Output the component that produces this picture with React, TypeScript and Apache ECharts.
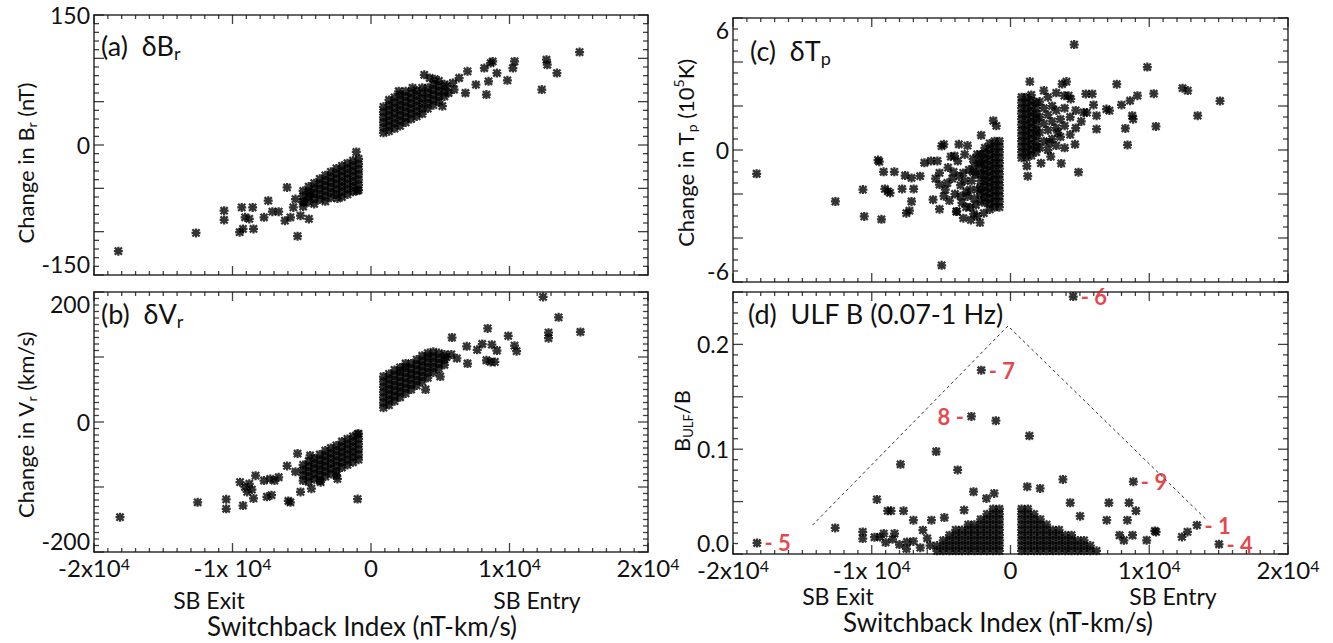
import React, { useEffect, useRef } from "react";
import * as echarts from "echarts";

const FONT = 'Lato, "Open Sans", "DejaVu Sans", sans-serif';

// ---------- tick labels ----------
const X_TICK_VALUES = [-20000, -10000, 0, 10000, 20000];
const X_TICK_BASES = ["-2x10", "-1x 10", "0", "1x10", "2x10"];
const X_TICK_EXPS = ["4", "4", "", "4", "4"];
const BR_TICK_LABELS = [-150, 0, 150];
const VR_TICK_LABELS = [-200, 0, 200];
const TP_TICK_LABELS = [-6, 0, 6];
const ULF_TICK_LABELS = [0, 0.1, 0.2];

// ---------- tick mark positions (major + minor) ----------
const X_TICKS = [
  -20000, -19000, -18000, -17000, -16000, -15000, -14000, -13000, -12000, -11000,
  -10000, -9000, -8000, -7000, -6000, -5000, -4000, -3000, -2000, -1000,
  0, 1000, 2000, 3000, 4000, 5000, 6000, 7000, 8000, 9000,
  10000, 11000, 12000, 13000, 14000, 15000, 16000, 17000, 18000, 19000, 20000,
];
const BR_TICKS = [
  -150, -140, -130, -120, -110, -100, -90, -80, -70, -60, -50, -40, -30, -20, -10,
  0, 10, 20, 30, 40, 50, 60, 70, 80, 90, 100, 110, 120, 130, 140, 150,
];
const VR_TICKS = [
  -200, -190, -180, -170, -160, -150, -140, -130, -120, -110, -100, -90, -80, -70, -60, -50, -40, -30, -20, -10,
  0, 10, 20, 30, 40, 50, 60, 70, 80, 90, 100, 110, 120, 130, 140, 150, 160, 170, 180, 190, 200,
];
const TP_TICKS = [
  -6, -5.5, -5, -4.5, -4, -3.5, -3, -2.5, -2, -1.5, -1, -0.5,
  0, 0.5, 1, 1.5, 2, 2.5, 3, 3.5, 4, 4.5, 5, 5.5, 6,
];
const ULF_TICKS = [
  0, 0.01, 0.02, 0.03, 0.04, 0.05, 0.06, 0.07, 0.08, 0.09, 0.1, 0.11, 0.12,
  0.13, 0.14, 0.15, 0.16, 0.17, 0.18, 0.19, 0.2, 0.21, 0.22, 0.23, 0.24, 0.25,
];

// ---------- (a) delta B_r (nT) ----------
const brNegCore = [
  [-900, -16], [-900, -22], [-900, -28], [-900, -34], [-900, -40], [-900, -46], [-900, -52],
  [-1300, -18], [-1300, -24], [-1300, -30], [-1300, -36], [-1300, -42], [-1300, -48], [-1300, -54],
  [-1700, -21], [-1700, -27], [-1700, -33], [-1700, -39], [-1700, -45], [-1700, -51], [-1700, -57],
  [-2100, -24], [-2100, -30], [-2100, -36], [-2100, -42], [-2100, -48], [-2100, -54], [-2100, -60],
  [-2500, -27], [-2500, -33], [-2500, -39], [-2500, -45], [-2500, -51], [-2500, -57],
  [-2900, -31], [-2900, -37], [-2900, -43], [-2900, -49], [-2900, -55], [-2900, -61],
  [-3300, -35], [-3300, -41], [-3300, -47], [-3300, -53], [-3300, -59], [-3300, -65],
  [-3700, -39], [-3700, -45], [-3700, -51], [-3700, -57], [-3700, -63],
  [-4100, -44], [-4100, -50], [-4100, -56], [-4100, -62], [-4100, -68],
  [-4500, -48], [-4500, -54], [-4500, -60], [-4500, -66],
  [-4900, -53], [-4900, -59], [-4900, -65], [-4900, -71],
];
const brNegScatter = [
  [-18242, -122.5], [-12636, -101.4], [-10606, -75.8], [-10606, -86.5], [-9485, -100.6],
  [-9333, -72], [-8545, -72], [-9091, -83.4], [-8788, -85.3], [-9242, -96.8], [-8485, -96.8],
  [-7727, -83.4], [-7424, -64.3], [-7121, -76.9], [-6667, -76.9], [-6212, -87.3], [-5818, -83.4],
  [-6061, -49], [-5303, -105.2], [-5091, -81.5], [-4485, -85.3], [-5606, -72], [-5455, -62.4],
  [-4848, -66.2], [-4394, -56.6], [-1061, -8], [-1000, -52.8], [-2424, -61.6],
];
const brPosCore = [
  [900, 14], [900, 20], [900, 26], [900, 32], [900, 38], [900, 44],
  [1300, 16], [1300, 22], [1300, 28], [1300, 34], [1300, 40], [1300, 46], [1300, 52],
  [1700, 19], [1700, 25], [1700, 31], [1700, 37], [1700, 43], [1700, 49], [1700, 55],
  [2100, 22], [2100, 28], [2100, 34], [2100, 40], [2100, 46], [2100, 52], [2100, 58],
  [2500, 26], [2500, 32], [2500, 38], [2500, 44], [2500, 50], [2500, 56], [2500, 62],
  [2900, 30], [2900, 36], [2900, 42], [2900, 48], [2900, 54], [2900, 60],
  [3300, 33], [3300, 39], [3300, 45], [3300, 51], [3300, 57], [3300, 63],
  [3700, 36], [3700, 42], [3700, 48], [3700, 54], [3700, 60], [3700, 66],
  [4100, 42], [4100, 48], [4100, 54], [4100, 60], [4100, 66],
  [4500, 46], [4500, 52], [4500, 58], [4500, 64], [4500, 70],
  [4900, 50], [4900, 56], [4900, 62], [4900, 68], [4900, 74],
  [5300, 56], [5300, 62], [5300, 70],
];
const brPosScatter = [
  [3848, 81], [4242, 77.3], [5152, 44.8], [6818, 60], [6364, 77.3], [6970, 85], [7576, 69.6],
  [8333, 58.2], [8485, 73.5], [8182, 88.8], [8636, 94.5], [8788, 96.4], [9091, 83], [9848, 74.6],
  [10242, 88.8], [10364, 96.4], [12333, 63.9], [12667, 98.4], [12727, 92.6], [13424, 83],
  [15061, 107.2], [5455, 67.7], [5909, 71.6], [2000, 62], [3000, 66], [4600, 76], [5600, 60], [6000, 64],
];

// ---------- (b) delta V_r (km/s) ----------
const vrNegCore = [
  [-900, -18], [-900, -26], [-900, -34], [-900, -42], [-900, -50], [-900, -58],
  [-1300, -22], [-1300, -30], [-1300, -38], [-1300, -46], [-1300, -54], [-1300, -62],
  [-1700, -26], [-1700, -34], [-1700, -42], [-1700, -50], [-1700, -58], [-1700, -66],
  [-2100, -30], [-2100, -38], [-2100, -46], [-2100, -54], [-2100, -62], [-2100, -70],
  [-2500, -36], [-2500, -44], [-2500, -52], [-2500, -60], [-2500, -68], [-2500, -76], [-2500, -82],
  [-2900, -40], [-2900, -48], [-2900, -56], [-2900, -64], [-2900, -72], [-2900, -80],
  [-3300, -44], [-3300, -52], [-3300, -60], [-3300, -68], [-3300, -76], [-3300, -84],
  [-3700, -50], [-3700, -58], [-3700, -66], [-3700, -74], [-3700, -82], [-3700, -90],
  [-4100, -56], [-4100, -64], [-4100, -72], [-4100, -80], [-4100, -88],
  [-4500, -60], [-4500, -68], [-4500, -76], [-4500, -84], [-4500, -92],
  [-4900, -66], [-4900, -74], [-4900, -82], [-4900, -90],
];
const vrNegScatter = [
  [-18121, -146.5], [-12515, -123.5], [-10455, -119], [-10455, -133.5], [-9242, -128.5],
  [-8485, -117.5], [-9455, -92.5], [-8788, -95], [-8333, -82.5], [-8939, -107.5], [-7727, -90],
  [-7273, -87.5], [-6970, -90], [-7515, -115], [-7182, -112.5], [-5970, -121.5], [-5818, -123.5],
  [-6667, -85], [-5303, -48.5], [-4394, -51.5], [-5091, -107.5], [-4303, -102.5], [-970, -118.5],
  [-970, -18.5], [-6061, -67.5], [-5455, -76.5], [-3636, -92.5], [-2424, -87.5], [-9100, -100], [-8600, -104],
];
const vrPosCore = [
  [900, 22], [900, 30], [900, 38], [900, 46], [900, 54], [900, 62], [900, 70],
  [1300, 26], [1300, 34], [1300, 42], [1300, 50], [1300, 58], [1300, 66], [1300, 74],
  [1700, 32], [1700, 40], [1700, 48], [1700, 56], [1700, 64], [1700, 72], [1700, 80],
  [2100, 38], [2100, 46], [2100, 54], [2100, 62], [2100, 70], [2100, 78], [2100, 84],
  [2500, 44], [2500, 52], [2500, 60], [2500, 68], [2500, 76], [2500, 84], [2500, 90],
  [2900, 50], [2900, 58], [2900, 66], [2900, 74], [2900, 82], [2900, 90],
  [3300, 56], [3300, 64], [3300, 72], [3300, 80], [3300, 88], [3300, 96],
  [3700, 62], [3700, 70], [3700, 78], [3700, 86], [3700, 94], [3700, 102],
  [4100, 68], [4100, 76], [4100, 84], [4100, 92], [4100, 100], [4100, 106],
  [4500, 76], [4500, 84], [4500, 92], [4500, 100], [4500, 108],
  [4900, 82], [4900, 90], [4900, 98], [4900, 106],
  [5300, 88], [5300, 96], [5300, 104],
];
const vrPosScatter = [
  [5848, 130], [6909, 116.5], [7667, 111], [8030, 120], [8424, 144], [8727, 119], [9091, 110],
  [8333, 95], [8636, 92.5], [8939, 92.5], [9909, 132.5], [10364, 117.5], [10515, 109],
  [12424, 192.5], [12818, 137.5], [12818, 129], [13545, 161], [15121, 138.5], [5455, 100],
  [6970, 90], [5000, 70], [3939, 50], [6200, 98], [5800, 104],
];

// ---------- (c) delta T_p (10^5 K) ----------
const tpNegCore = [
  [-800, 0.4], [-800, 0.15], [-800, -0.1], [-800, -0.35], [-800, -0.6], [-800, -0.85], [-800, -1.1],
  [-800, -1.35], [-800, -1.6], [-800, -1.85], [-800, -2.1], [-800, -2.35], [-800, -2.6],
  [-1150, 0.4], [-1150, 0.15], [-1150, -0.1], [-1150, -0.35], [-1150, -0.6], [-1150, -0.85], [-1150, -1.1],
  [-1150, -1.35], [-1150, -1.6], [-1150, -1.85], [-1150, -2.1], [-1150, -2.35], [-1150, -2.6],
  [-1500, 0.3], [-1500, 0.05], [-1500, -0.2], [-1500, -0.45], [-1500, -0.7], [-1500, -0.95], [-1500, -1.2],
  [-1500, -1.45], [-1500, -1.7], [-1500, -1.95], [-1500, -2.2], [-1500, -2.45], [-1500, -2.7],
  [-1850, 0.1], [-1850, -0.15], [-1850, -0.4], [-1850, -0.65], [-1850, -0.9], [-1850, -1.15], [-1850, -1.4],
  [-1850, -1.65], [-1850, -1.9], [-1850, -2.15], [-1850, -2.4],
  [-2150, -0.2], [-2150, -0.5], [-2150, -0.8], [-2150, -1.1], [-2150, -1.4], [-2150, -1.7], [-2150, -2.0], [-2150, -2.3],
];
const tpNegScatter = [
  [-18295, -1.08], [-12620, -2.34], [-10636, -1.8], [-10543, -3.02], [-9302, -3.15], [-9550, -0.46],
  [-9457, -0.53], [-9147, -0.99], [-8372, -0.99], [-9054, -1.77], [-8837, -1.88], [-8682, -1.95],
  [-7814, -1.77], [-7597, -1.16], [-7132, -1.27], [-6977, -1.77], [-7132, -2.34], [-7504, -2.87],
  [-7287, -2.76], [-6512, -1.19], [-6202, -0.58], [-5736, -0.5], [-5271, -0.5], [-4961, 0.18],
  [-4806, 0.26], [-5116, -1.04], [-5116, -1.57], [-5116, -2.69], [-4558, -1.5], [-3876, -2.79],
  [-3721, 0.26], [-4031, -0.27], [-2853, -3.18], [-1922, -2.87], [-4961, -5.24], [-2109, 0.67],
  [-1240, 1.33], [-1023, 1.1], [-5581, -2.26], [-3411, -1.04], [-3101, -2.11], [-2636, -0.73],
  [-4500, -0.8], [-4200, -1.3], [-4000, -2.0], [-3800, -0.5], [-3600, -1.6], [-3500, -2.4],
  [-3300, -0.2], [-3200, -1.9], [-3000, -0.9], [-2900, -2.6], [-2800, -1.4], [-2700, -0.4],
  [-2600, -2.2], [-2500, -1.1], [-2400, -3.0], [-2400, -1.8], [-2300, -0.6], [-4400, -2.3],
  [-3900, -2.8], [-4700, -1.8], [-3400, -3.1], [-3100, 0.2], [-2650, -2.9], [-2200, -3.3],
  [-4300, -0.3], [-4100, -1.0], [-3700, -1.2], [-3600, -2.1], [-3300, -1.4], [-3200, -2.6],
  [-2900, -1.8], [-2700, -1.0], [-2500, -2.5], [-2400, -0.2], [-4800, -2.1], [-5400, -1.3],
];
const tpPosCore = [
  [800, -0.35], [800, -0.1], [800, 0.15], [800, 0.4], [800, 0.65], [800, 0.9], [800, 1.15], [800, 1.4], [800, 1.65], [800, 1.9], [800, 2.15], [800, 2.4],
  [1150, -0.35], [1150, -0.1], [1150, 0.15], [1150, 0.4], [1150, 0.65], [1150, 0.9], [1150, 1.15], [1150, 1.4], [1150, 1.65], [1150, 1.9], [1150, 2.15], [1150, 2.4],
  [1500, -0.25], [1500, 0.0], [1500, 0.25], [1500, 0.5], [1500, 0.75], [1500, 1.0], [1500, 1.25], [1500, 1.5], [1500, 1.75], [1500, 2.0], [1500, 2.25], [1500, 2.5],
  [1850, -0.1], [1850, 0.15], [1850, 0.4], [1850, 0.65], [1850, 0.9], [1850, 1.15], [1850, 1.4], [1850, 1.65], [1850, 1.9], [1850, 2.15],
];
const tpPosScatter = [
  [1395, 3.11], [1240, -1.19], [1178, -0.73], [4031, 3.11], [3721, 3.0], [4589, 4.79], [3659, -0.61],
  [4899, -1.01], [3876, 2.47], [4186, 2.47], [4651, 0.26], [4341, 2.32], [5426, 2.55], [5891, 2.55],
  [5984, 2.05], [6202, 0.95], [6915, 1.86], [7132, 1.79], [7659, 2.99], [8000, 2.05], [8279, 0.98],
  [8434, 0.23], [8620, 2.24], [8775, 1.56], [8837, 1.4], [9147, 2.47], [9860, 3.77], [10326, 2.56],
  [10481, 1.07], [12403, 2.81], [12775, 2.7], [13488, 1.56], [15101, 2.23], [6202, 1.56], [5271, 1.71],
  [3411, 0.79], [2791, 0.34],
  [2100, 0.1], [2100, 0.8], [2100, 1.5], [2100, 2.2], [2400, 0.4], [2400, 1.2], [2400, 1.9], [2400, 2.7],
  [2700, 0.0], [2700, 0.9], [2700, 1.6], [2700, 2.4], [3000, 0.5], [3000, 1.3], [3000, 2.0], [3300, 0.2],
  [3300, 1.0], [3300, 1.8], [3300, 2.6], [3600, 0.6], [3600, 1.4], [3900, 0.1], [3900, 1.1], [3900, 1.9],
  [4300, 0.7], [4300, 1.5], [4700, 1.0], [4700, 1.8], [5100, 1.3], [5500, 1.7], [2200, -0.6], [2900, -0.3],
];

// ---------- (d) ULF B / B ----------
const ulfNegCore = [
  [-800, 0.003], [-800, 0.008], [-800, 0.013], [-800, 0.018], [-800, 0.023], [-800, 0.028], [-800, 0.033], [-800, 0.038], [-800, 0.043],
  [-1250, 0.003], [-1250, 0.008], [-1250, 0.013], [-1250, 0.018], [-1250, 0.023], [-1250, 0.028], [-1250, 0.033], [-1250, 0.038], [-1250, 0.043],
  [-1700, 0.003], [-1700, 0.008], [-1700, 0.013], [-1700, 0.018], [-1700, 0.023], [-1700, 0.028], [-1700, 0.033], [-1700, 0.038],
  [-2150, 0.003], [-2150, 0.008], [-2150, 0.013], [-2150, 0.018], [-2150, 0.023], [-2150, 0.028], [-2150, 0.033],
  [-2600, 0.003], [-2600, 0.008], [-2600, 0.013], [-2600, 0.018], [-2600, 0.023], [-2600, 0.028],
  [-3050, 0.003], [-3050, 0.008], [-3050, 0.013], [-3050, 0.018], [-3050, 0.023], [-3050, 0.028],
  [-3500, 0.003], [-3500, 0.008], [-3500, 0.013], [-3500, 0.018], [-3500, 0.023],
  [-3950, 0.003], [-3950, 0.008], [-3950, 0.013], [-3950, 0.018], [-3950, 0.023],
  [-4400, 0.003], [-4400, 0.008], [-4400, 0.013], [-4400, 0.018],
  [-4850, 0.003], [-4850, 0.008], [-4850, 0.013],
  [-5300, 0.003], [-5300, 0.008],
];
const ulfPosCore = [
  [800, 0.003], [800, 0.008], [800, 0.013], [800, 0.018], [800, 0.023], [800, 0.028], [800, 0.033], [800, 0.038], [800, 0.043],
  [1250, 0.003], [1250, 0.008], [1250, 0.013], [1250, 0.018], [1250, 0.023], [1250, 0.028], [1250, 0.033], [1250, 0.038], [1250, 0.043],
  [1700, 0.003], [1700, 0.008], [1700, 0.013], [1700, 0.018], [1700, 0.023], [1700, 0.028], [1700, 0.033], [1700, 0.038],
  [2150, 0.003], [2150, 0.008], [2150, 0.013], [2150, 0.018], [2150, 0.023], [2150, 0.028], [2150, 0.033],
  [2600, 0.003], [2600, 0.008], [2600, 0.013], [2600, 0.018], [2600, 0.023], [2600, 0.028],
  [3050, 0.003], [3050, 0.008], [3050, 0.013], [3050, 0.018], [3050, 0.023],
  [3500, 0.003], [3500, 0.008], [3500, 0.013], [3500, 0.018], [3500, 0.023],
  [3950, 0.003], [3950, 0.008], [3950, 0.013], [3950, 0.018],
  [4400, 0.003], [4400, 0.008], [4400, 0.013], [4400, 0.018],
  [4850, 0.003], [4850, 0.008], [4850, 0.013],
  [5300, 0.003], [5300, 0.008], [5300, 0.013],
  [5750, 0.003], [5750, 0.008],
  [6200, 0.003],
];
const ulfScatter = [
  [-12632, 0.0249], [-10650, 0.0211], [-10650, 0.0147], [-9628, 0.0521], [-9411, 0.0163], [-8854, 0.0412],
  [-8606, 0.0412], [-9132, 0.0195], [-8358, 0.0195], [-7926, 0.0856], [-7709, 0.0412], [-7461, 0.0115],
  [-6997, 0.0323], [-6316, 0.0227], [-5696, 0.0323], [-5356, 0.0978], [-4768, 0.0348], [-3808, 0.0802],
  [-3344, 0.0419], [-2663, 0.0594], [-1734, 0.053], [-1176, 0.0578], [-1053, 0.1272], [1362, 0.1128],
  [1207, 0.0642], [2136, 0.0626], [3777, 0.0712], [4304, 0.0489], [5016, 0.0361], [7090, 0.0489],
  [6935, 0.0323], [8545, 0.0489], [8421, 0.0323], [9040, 0.0412], [8793, 0.0179], [9814, 0.0131],
  [10402, 0.022], [10495, 0.0211], [12353, 0.0163], [12756, 0.0211], [8173, 0.0131], [7863, 0.0179],
  [-6500, 0.006], [-7000, 0.012], [-7500, 0.005], [-8000, 0.009], [-6000, 0.015], [-8500, 0.014],
  [-9000, 0.011], [-9800, 0.016], [-5800, 0.008],
];
// numbered events
const eventIds = ["6", "7", "8", "9", "1", "4", "5"];
const eventX = [4520, -2105, -2817, 8854, 13437, 15027, -18270];
const eventY = [0.2457, 0.1754, 0.1313, 0.069, 0.0275, 0.0093, 0.0105];
const eventSide = ["right", "right", "left", "right", "right", "right", "right"];
// dashed envelope
const envelopeX = [-14272, -186, 14211];
const envelopeY = [0.0275, 0.2176, 0.0316];

// ---------- styling helpers ----------
const AXIS_COLOR = "#333";
const STAR =
  "path://M7.5 0L12.5 0L12.5 20L7.5 20Z M0 7.5L20 7.5L20 12.5L0 12.5Z M3.77 0.23L19.77 16.23L16.23 19.77L0.23 3.77Z M16.23 0.23L19.77 3.77L3.77 19.77L0.23 16.23Z";
const GRIDS = [
  { left: 94, top: 15, width: 554, height: 260 },
  { left: 94, top: 292, width: 554, height: 260 },
  { left: 733, top: 18, width: 555, height: 264 },
  { left: 733, top: 292, width: 555, height: 262 },
];
// axis extents: [min, max, major interval]
const X_SCALE = [-20000, 20000, 10000];
const Y_SCALES = [
  [-150, 150, 50],
  [-200, 200, 100],
  [-6, 6, 2],
  [0, 0.25, 0.05],
];
const Y_TICKS = [BR_TICKS, VR_TICKS, TP_TICKS, ULF_TICKS];

function near(a: number, b: number) {
  return Math.abs(a - b) < 1e-9;
}
function isMajor(v: number, interval: number) {
  const q = v / interval;
  return Math.abs(q - Math.round(q)) < 1e-6;
}

function frameAxes(dim: "x" | "y", grid: number, scale: number[], label: any) {
  const sides = dim === "x" ? ["bottom", "top"] : ["left", "right"];
  return sides.map((p, i) => ({
    type: "value",
    gridIndex: grid,
    position: p,
    min: scale[0],
    max: scale[1],
    interval: scale[2],
    splitLine: { show: false },
    axisTick: { show: false },
    axisLine: { show: true, onZero: false, lineStyle: { color: AXIS_COLOR, width: 1.5 } },
    axisLabel: i === 0 ? label : { show: false },
  }));
}

function xLabel(show: boolean) {
  return {
    show,
    margin: 3,
    formatter: (v: number) => {
      const i = X_TICK_VALUES.findIndex((t) => near(t, v));
      if (i < 0) return "";
      return X_TICK_EXPS[i] ? `{n|${X_TICK_BASES[i]}}{s|${X_TICK_EXPS[i]}}` : `{n|${X_TICK_BASES[i]}}`;
    },
    rich: {
      n: { fontSize: 24, fontFamily: FONT, color: "#111" },
      s: { fontSize: 16, fontFamily: FONT, color: "#111", verticalAlign: "top" },
    },
  };
}

function yLabel(labels: number[], digits: number, maxAlign: string, minAlign: string) {
  return {
    show: true,
    margin: 4,
    fontSize: 23,
    fontFamily: FONT,
    color: "#111",
    verticalAlignMinLabel: minAlign,
    verticalAlignMaxLabel: maxAlign,
    formatter: (v: number) => {
      const l = labels.find((t) => near(t, v));
      return l === undefined ? "" : l.toFixed(digits);
    },
  };
}

function scatter(grid: number, data: any[]) {
  return {
    type: "scatter",
    xAxisIndex: grid * 2,
    yAxisIndex: grid * 2,
    data,
    symbol: STAR,
    symbolSize: 9,
    itemStyle: { color: "#000" },
    silent: true,
    clip: false,
  };
}

// Tick marks as thin rect symbols anchored on the frame through the axes' scales.
function tickSeries(grid: number) {
  const [ymin, ymax, yint] = Y_SCALES[grid];
  const [xmin, xmax, xint] = X_SCALE;
  const items: any[] = [];
  X_TICKS.forEach((v) => {
    const len = isMajor(v, xint) ? 9 : 4;
    items.push({ value: [v, ymin], symbolSize: [1.3, len], symbolOffset: [0, -len / 2] });
    items.push({ value: [v, ymax], symbolSize: [1.3, len], symbolOffset: [0, len / 2] });
  });
  Y_TICKS[grid].forEach((v) => {
    const len = isMajor(v, yint) ? 10 : 5;
    items.push({ value: [xmin, v], symbolSize: [len, 1.3], symbolOffset: [len / 2, 0] });
    items.push({ value: [xmax, v], symbolSize: [len, 1.3], symbolOffset: [-len / 2, 0] });
  });
  return {
    type: "scatter",
    xAxisIndex: grid * 2,
    yAxisIndex: grid * 2,
    data: items,
    symbol: "rect",
    itemStyle: { color: "#111" },
    silent: true,
    clip: false,
    z: 5,
  };
}

function txt(x: number, y: number, text: string, size: number, rich?: any, rotate = false, align = "center") {
  return {
    type: "text",
    x,
    y,
    rotation: rotate ? Math.PI / 2 : 0,
    style: {
      text,
      fontSize: size,
      fontFamily: FONT,
      fill: "#111",
      align,
      verticalAlign: "middle",
      rich,
    },
  };
}

const subRich = (size: number, sub: number) => ({
  t: { fontSize: size, fontFamily: FONT, fill: "#111", lineHeight: size * 1.25 },
  s: { fontSize: sub, fontFamily: FONT, fill: "#111", verticalAlign: "bottom" },
  p: { fontSize: sub, fontFamily: FONT, fill: "#111", verticalAlign: "top" },
});

export default function App() {
  const ref = useRef<HTMLDivElement>(null);
  useEffect(() => {
    if (!ref.current) return;
    const chart = echarts.init(ref.current, undefined, { renderer: "svg" });
    const eventData = eventIds.map((id, i) => ({
      value: [eventX[i], eventY[i]],
      label: {
        show: true,
        position: eventSide[i],
        distance: 3,
        offset: id === "6" ? [0, 7] : [0, 0],
        formatter: eventSide[i] === "left" ? `${id} -` : `- ${id}`,
        color: "#e0141b",
        fontSize: 22,
        fontWeight: "bold",
        fontFamily: FONT,
      },
    }));
    const texts = [
      txt(101, 45, "{t|(a)  δB}{s|r}", 27, subRich(27, 18), false, "left"),
      txt(101, 313, "{t|(b)  δV}{s|r}", 27, subRich(27, 18), false, "left"),
      txt(750, 50, "{t|(c)  δT}{s|p}", 27, subRich(27, 18), false, "left"),
      txt(748, 313, "(d)  ULF B (0.07-1 Hz)", 27, undefined, false, "left"),
      txt(25, 163, "{t|Change in B}{s|r}{t| (nT)}", 22, subRich(22, 14), true),
      txt(25, 425, "{t|Change in V}{s|r}{t| (km/s)}", 22, subRich(22, 14), true),
      txt(685, 153, "{t|Change in T}{s|p}{t| (10}{p|5}{t|K)}", 22, subRich(22, 14), true),
      txt(681, 421, "{t|B}{s|ULF}{t|/B}", 22, subRich(22, 13), true),
      txt(209, 600, "SB Exit", 23),
      txt(537, 600, "SB Entry", 23),
      txt(362, 626, "Switchback Index (nT-km/s)", 26),
      txt(838, 596, "SB Exit", 23),
      txt(1173, 596, "SB Entry", 23),
      txt(998, 622, "Switchback Index (nT-km/s)", 26),
    ];
    const option: any = {
      animation: false,
      backgroundColor: "#fff",
      grid: GRIDS,
      xAxis: [
        ...frameAxes("x", 0, X_SCALE, xLabel(false)),
        ...frameAxes("x", 1, X_SCALE, xLabel(true)),
        ...frameAxes("x", 2, X_SCALE, xLabel(false)),
        ...frameAxes("x", 3, X_SCALE, xLabel(true)),
      ],
      yAxis: [
        ...frameAxes("y", 0, Y_SCALES[0], yLabel(BR_TICK_LABELS, 0, "middle", "bottom")),
        ...frameAxes("y", 1, Y_SCALES[1], yLabel(VR_TICK_LABELS, 0, "top", "bottom")),
        ...frameAxes("y", 2, Y_SCALES[2], yLabel(TP_TICK_LABELS, 0, "top", "bottom")),
        ...frameAxes("y", 3, Y_SCALES[3], yLabel(ULF_TICK_LABELS, 1, "middle", "bottom")),
      ],
      series: [
        tickSeries(0),
        tickSeries(1),
        tickSeries(2),
        tickSeries(3),
        scatter(0, [...brNegCore, ...brNegScatter, ...brPosCore, ...brPosScatter]),
        scatter(1, [...vrNegCore, ...vrNegScatter, ...vrPosCore, ...vrPosScatter]),
        scatter(2, [...tpNegCore, ...tpNegScatter, ...tpPosCore, ...tpPosScatter]),
        scatter(3, [...ulfNegCore, ...ulfPosCore, ...ulfScatter]),
        {
          type: "line",
          xAxisIndex: 6,
          yAxisIndex: 6,
          data: envelopeX.map((x, i) => [x, envelopeY[i]]),
          symbol: "none",
          lineStyle: { color: "#333", width: 1, type: [3, 3] },
          silent: true,
        },
        { ...scatter(3, eventData), labelLayout: { hideOverlap: false } },
      ],
      graphic: texts,
    };
    chart.setOption(option);
    return () => chart.dispose();
  }, []);
  return (
    <div
      ref={ref}
      style={{ position: "absolute", left: 0, top: 0, width: 1333, height: 643, background: "#fff" }}
    />
  );
}
